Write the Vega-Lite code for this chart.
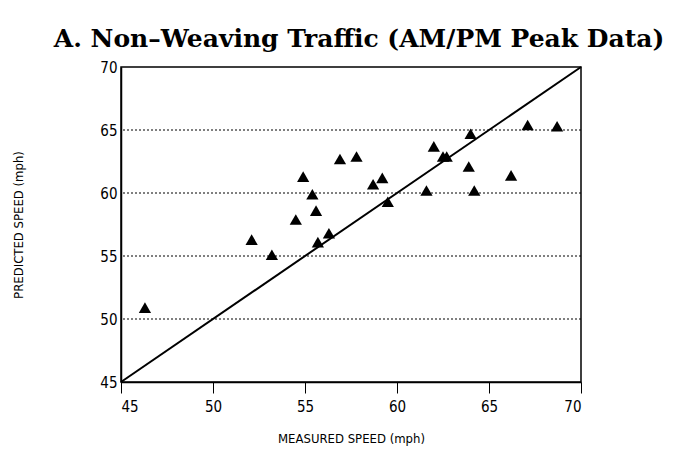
{
  "$schema": "https://vega.github.io/schema/vega-lite/v6.json",
  "autosize": "none",
  "width": 460,
  "height": 315,
  "padding": {"left": 121, "top": 67, "right": 94, "bottom": 75},
  "background": "white",
  "title": {
    "text": "A. Non–Weaving Traffic (AM/PM Peak Data)",
    "font": "DejaVu Serif",
    "fontSize": 25,
    "fontWeight": 600,
    "color": "black",
    "anchor": "middle",
    "frame": "group",
    "dx": 8,
    "offset": 8
  },
  "config": {
    "view": {"stroke": "black", "strokeWidth": 1.5},
    "axis": {
      "labelFont": "DejaVu Sans Condensed, Liberation Sans, sans-serif",
      "titleFont": "DejaVu Sans Condensed, Liberation Sans, sans-serif",
      "labelFontSize": 15,
      "titleFontSize": 13,
      "titleFontWeight": "normal",
      "labelColor": "black",
      "titleColor": "black",
      "domainColor": "black",
      "tickColor": "black"
    }
  },
  "datasets": {
    "pts": [
      {"measured": 46.3, "predicted": 50.9},
      {"measured": 52.1, "predicted": 56.3},
      {"measured": 53.2, "predicted": 55.1},
      {"measured": 54.5, "predicted": 57.9},
      {"measured": 54.9, "predicted": 61.3},
      {"measured": 55.4, "predicted": 59.9},
      {"measured": 55.6, "predicted": 58.6},
      {"measured": 55.7, "predicted": 56.1},
      {"measured": 56.3, "predicted": 56.8},
      {"measured": 56.9, "predicted": 62.7},
      {"measured": 57.8, "predicted": 62.9},
      {"measured": 58.7, "predicted": 60.7},
      {"measured": 59.2, "predicted": 61.2},
      {"measured": 59.5, "predicted": 59.3},
      {"measured": 61.6, "predicted": 60.2},
      {"measured": 62.0, "predicted": 63.7},
      {"measured": 62.5, "predicted": 62.9},
      {"measured": 62.7, "predicted": 62.9},
      {"measured": 63.9, "predicted": 62.1},
      {"measured": 64.0, "predicted": 64.7},
      {"measured": 64.2, "predicted": 60.2},
      {"measured": 66.2, "predicted": 61.4},
      {"measured": 67.1, "predicted": 65.4},
      {"measured": 68.7, "predicted": 65.3}
    ],
    "grid": [{"v": 50}, {"v": 55}, {"v": 60}, {"v": 65}],
    "diag": [{"x1": 45, "y1": 45, "x2": 70, "y2": 70}]
  },
  "layer": [
    {
      "data": {"name": "grid"},
      "mark": {"type": "rule", "color": "black", "strokeDash": [2, 2], "strokeWidth": 1},
      "encoding": {
        "y": {"field": "v", "type": "quantitative", "scale": {"domain": [45, 70]}}
      }
    },
    {
      "data": {"name": "diag"},
      "mark": {"type": "rule", "color": "black", "strokeWidth": 2},
      "encoding": {
        "x": {"field": "x1", "type": "quantitative"},
        "y": {"field": "y1", "type": "quantitative"},
        "x2": {"field": "x2"},
        "y2": {"field": "y2"}
      }
    },
    {
      "data": {"name": "pts"},
      "mark": {"type": "point", "shape": "triangle-up", "filled": true, "color": "black", "opacity": 1, "size": 150},
      "encoding": {
        "x": {
          "field": "measured", "type": "quantitative",
          "scale": {"domain": [45, 70], "nice": false, "zero": false},
          "axis": {"title": "MEASURED SPEED (mph)", "values": [45, 50, 55, 60, 65, 70], "grid": false, "tickSize": 11, "labelPadding": 6, "titlePadding": 18, "domainWidth": 1.5}
        },
        "y": {
          "field": "predicted", "type": "quantitative",
          "scale": {"domain": [45, 70], "nice": false, "zero": false},
          "axis": {"title": "PREDICTED SPEED (mph)", "values": [45, 50, 55, 60, 65, 70], "grid": false, "tickSize": 0, "labelPadding": 4, "titlePadding": 74, "domainWidth": 1.5}
        }
      }
    }
  ]
}
